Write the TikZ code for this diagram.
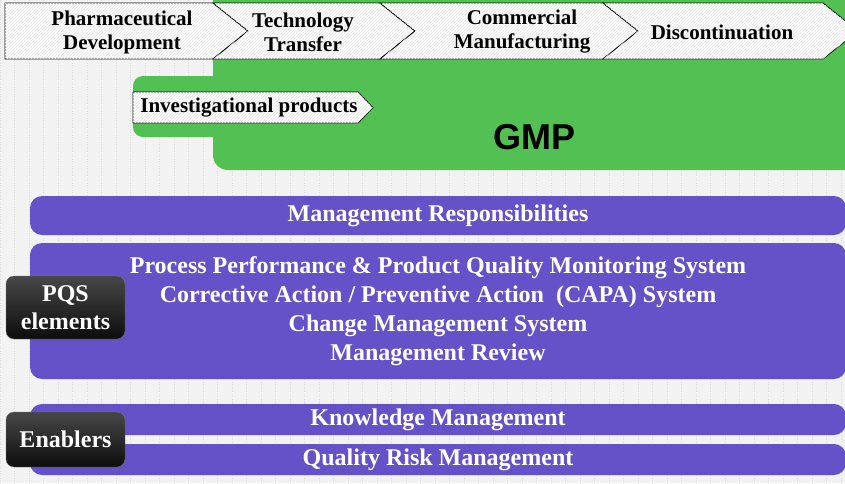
\documentclass[tikz,border=0pt]{standalone}
\usepackage{fontspec}
\setmainfont{Liberation Serif}
\newfontfamily\gmpfont{Liberation Sans}
\usetikzlibrary{patterns}

\definecolor{paper}{RGB}{242,242,242}
\definecolor{gmpgreen}{RGB}{82,192,82}
\definecolor{pqspurple}{RGB}{102,82,200}

\tikzset{
  phase/.style={draw=black, line width=0.8pt, fill=white,
    postaction={pattern=north east lines, pattern color=black!10}},
  phasetext/.style={font=\fontsize{21}{24}\selectfont\bfseries, align=center, inner sep=0pt},
  band/.style={fill=pqspurple, rounded corners=12pt, minimum width=816pt, inner sep=0pt,
    text=white, font=\fontsize{24}{29}\selectfont\bfseries, align=center},
  tagbox/.style={draw=black!55, rounded corners=8pt, top color=black!72, bottom color=black!95,
    minimum width=119pt, inner sep=0pt, text=white,
    font=\fontsize{24}{28}\selectfont\bfseries, align=center}
}

\begin{document}
\begin{tikzpicture}[x=1pt, y=-1pt]
  \useasboundingbox (0,0) rectangle (845,483);
  \clip (0,0) rectangle (845,483);
  % background
  \fill[paper] (0,0) rectangle (845,483);
  \draw[black!14, dotted, step=14.5] (0,0) grid (845,483);

  % GMP area
  \fill[gmpgreen, rounded corners=15pt] (213,-20) rectangle (860,170);
  \fill[gmpgreen, rounded corners=10pt] (133,76) rectangle (240,137);
  \node[font=\gmpfont\fontsize{36}{36}\selectfont\bfseries] (gmp) at (534,137) {GMP};

  % phases
  \draw[phase] (5,3) -- (213,3) -- (248,31) -- (213,59) -- (5,59) -- cycle;
  \draw[phase] (213,3) -- (380,3) -- (415,31) -- (380,59) -- (213,59) -- (248,31) -- cycle;
  \draw[phase] (380,3) -- (603,3) -- (638,31) -- (603,59) -- (380,59) -- (415,31) -- cycle;
  \draw[phase] (603,3) -- (823,3) -- (858,31) -- (823,59) -- (603,59) -- (638,31) -- cycle;
  \node[phasetext] (pharm) at (122,32) {Pharmaceutical\\Development};
  \node[phasetext] (tech) at (303,32) {Technology\\Transfer};
  \node[phasetext] (comm) at (522,32) {Commercial\\Manufacturing};
  \node[phasetext] (disc) at (722,32) {Discontinuation};

  \draw[phase] (133,92) -- (358,92) -- (373,107.5) -- (358,123) -- (133,123) -- cycle;
  \node[phasetext] (inv) at (249,107.5) {Investigational products};

  % PQS bands
  \node[band, minimum height=39pt] (mgmt) at (438,215.5) {Management Responsibilities};
  \node[band, minimum height=136pt] (pqs) at (438,311)
    {Process Performance \& Product Quality Monitoring System\\
     Corrective Action / Preventive Action\ \ (CAPA) System\\
     Change Management System\\
     Management Review};
  \node[band, minimum height=31pt] (km) at (438,419.5) {Knowledge Management};
  \node[band, minimum height=31pt] (qrm) at (438,459.5) {Quality Risk Management};

  % labels
  \node[tagbox, minimum height=63pt] (pqstag) at (65.5,307.5) {PQS\\elements};
  \node[tagbox, minimum height=55pt] (enabtag) at (65.5,439.5) {Enablers};
\end{tikzpicture}
\end{document}
